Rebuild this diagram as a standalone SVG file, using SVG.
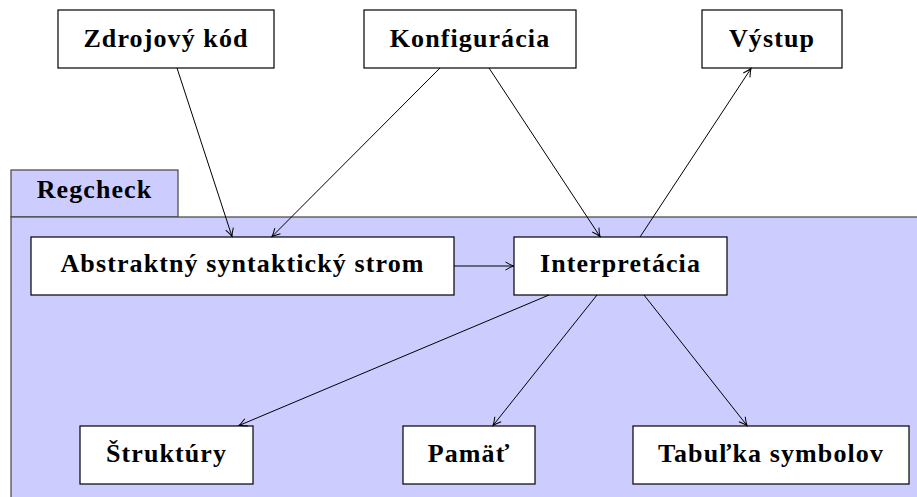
<svg xmlns="http://www.w3.org/2000/svg" width="917" height="497" viewBox="0 0 917 497">
  <defs>
    <marker id="arr" markerUnits="userSpaceOnUse" markerWidth="12" markerHeight="12" refX="0" refY="0" viewBox="-10 -6 12 12" orient="auto" overflow="visible">
      <path d="M-8,-4 Q-3,-1 0,0 Q-3,1 -8,4" fill="none" stroke="#000" stroke-width="1"/>
    </marker>
  </defs>
  <style>
    .box { fill: #fff; stroke: #000; stroke-width: 1.2; }
    .pkg { fill: #ccccff; stroke: #444; stroke-width: 1.2; }
    .lbl { font-family: "Liberation Serif", "Times New Roman", serif; font-weight: bold; font-size: 26px; letter-spacing: 1.1px; fill: #000; text-anchor: middle; }
    .edge { fill: none; stroke: #000; stroke-width: 1; marker-end: url(#arr); }
  </style>
  <rect width="917" height="497" fill="#fff"/>

  <g id="regcheck">
    <rect class="pkg" x="11" y="170" width="167" height="47"/>
    <rect class="pkg" x="11" y="217" width="910" height="284"/>
    <text class="lbl" x="94.5" y="198">Regcheck</text>
  </g>

  <g id="zdrojovy-kod">
    <rect class="box" x="58" y="10" width="216" height="58"/>
    <text class="lbl" x="166" y="47">Zdrojový kód</text>
  </g>
  <g id="konfiguracia">
    <rect class="box" x="364" y="10" width="212" height="58"/>
    <text class="lbl" x="470" y="47">Konfigurácia</text>
  </g>
  <g id="vystup">
    <rect class="box" x="702" y="10" width="140" height="58"/>
    <text class="lbl" x="772" y="47">Výstup</text>
  </g>
  <g id="ast">
    <rect class="box" x="31" y="237" width="423" height="58"/>
    <text class="lbl" x="242.5" y="272">Abstraktný syntaktický strom</text>
  </g>
  <g id="interpretacia">
    <rect class="box" x="514" y="237" width="213" height="58"/>
    <text class="lbl" x="620.5" y="272">Interpretácia</text>
  </g>
  <g id="struktury">
    <rect class="box" x="80" y="426" width="173" height="58"/>
    <text class="lbl" x="166.5" y="462">Štruktúry</text>
  </g>
  <g id="pamat">
    <rect class="box" x="403" y="426" width="132" height="58"/>
    <text class="lbl" x="469" y="462">Pamäť</text>
  </g>
  <g id="tabulka-symbolov">
    <rect class="box" x="633" y="426" width="276" height="58"/>
    <text class="lbl" x="771" y="462">Tabuľka symbolov</text>
  </g>

  <g id="connectors">
    <line class="edge" x1="177" y1="68" x2="232" y2="236.5"/>
    <line class="edge" x1="440" y1="68" x2="272" y2="236.5"/>
    <line class="edge" x1="489" y1="68" x2="600" y2="236.5"/>
    <line class="edge" x1="640" y1="237" x2="751" y2="68.5"/>
    <line class="edge" x1="454" y1="266" x2="513.5" y2="266"/>
    <line class="edge" x1="549" y1="295" x2="239" y2="425.5"/>
    <line class="edge" x1="597" y1="295" x2="493" y2="425.5"/>
    <line class="edge" x1="644" y1="295" x2="747" y2="425.5"/>
  </g>
</svg>
